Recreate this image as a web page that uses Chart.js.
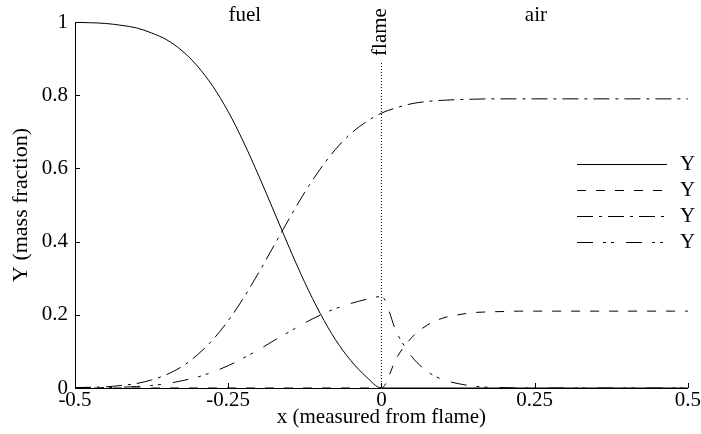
<!DOCTYPE html>
<html>
<head>
<meta charset="utf-8">
<script src="https://cdn.jsdelivr.net/npm/chart.js@4.4.1/dist/chart.umd.min.js"></script>
<style>
  html, body { margin: 0; padding: 0; background: #fff; }
  #wrap { width: 701px; height: 434px; }
</style>
</head>
<body>
<div id="wrap"><canvas id="c" width="701" height="434"></canvas></div>
<script>
// x positions (measured from flame)
const xs = [-0.5, -0.475, -0.45, -0.425, -0.4, -0.375, -0.35, -0.325, -0.3, -0.275,
  -0.25, -0.225, -0.2, -0.175, -0.15, -0.125, -0.1, -0.075, -0.05, -0.025,
  0, 0.025, 0.05, 0.075, 0.1, 0.125, 0.15, 0.175, 0.2, 0.225,
  0.25, 0.275, 0.3, 0.325, 0.35, 0.375, 0.4, 0.425, 0.45, 0.475, 0.5];

// mass fractions
const yFuel = [0.999, 0.998, 0.996, 0.991, 0.984, 0.970, 0.951, 0.921, 0.879, 0.824,
  0.755, 0.672, 0.579, 0.481, 0.382, 0.288, 0.204, 0.132, 0.075, 0.031,
  0, 0, 0, 0, 0, 0, 0, 0, 0, 0,
  0, 0, 0, 0, 0, 0, 0, 0, 0, 0, 0];
const yOx = [0, 0, 0, 0, 0, 0, 0, 0, 0, 0,
  0, 0, 0, 0, 0, 0, 0, 0, 0, 0,
  0, 0.083, 0.139, 0.172, 0.191, 0.200, 0.206, 0.208, 0.209, 0.210,
  0.210, 0.210, 0.210, 0.210, 0.210, 0.210, 0.210, 0.210, 0.210, 0.210, 0.210];
const yInert = [0.001, 0.002, 0.003, 0.007, 0.012, 0.022, 0.037, 0.059, 0.091, 0.132,
  0.184, 0.246, 0.316, 0.390, 0.464, 0.535, 0.598, 0.652, 0.695, 0.727,
  0.751, 0.766, 0.777, 0.783, 0.786, 0.788, 0.789, 0.790, 0.790, 0.790,
  0.790, 0.790, 0.790, 0.790, 0.790, 0.790, 0.790, 0.790, 0.790, 0.790, 0.790];
const yProd = [0, 0.001, 0.001, 0.002, 0.004, 0.007, 0.012, 0.020, 0.030, 0.044,
  0.061, 0.082, 0.105, 0.130, 0.154, 0.178, 0.199, 0.217, 0.231, 0.242,
  0.250, 0.151, 0.085, 0.045, 0.023, 0.012, 0.005, 0.002, 0.001, 0,
  0, 0, 0, 0, 0, 0, 0, 0, 0, 0, 0];

// flame sheet marker
const flameX = [0, 0];
const flameY = [0, 0.89];

const xTicks = [-0.5, -0.25, 0, 0.25, 0.5];
const xTickLabels = ["-0.5", "-0.25", "0", "0.25", "0.5"];
const yTicks = [0, 0.2, 0.4, 0.6, 0.8, 1];
const yTickLabels = ["0", "0.2", "0.4", "0.6", "0.8", "1"];

const regions = [
  { text: "fuel", x: -0.223 },
  { text: "air", x: 0.252 }
];
const legendLabels = ["Y", "Y", "Y", "Y"];

const FONT = "'Liberation Serif', 'Times New Roman', serif";
const FS = 21;
const dashes = [[], [9, 10], [16, 6, 3, 6], [16, 10, 3, 5, 3, 12]];

function pts(ys) {
  return xs.map((x, i) => ({ x: x, y: ys[i] }));
}

function series(ys, dash) {
  return {
    data: pts(ys),
    borderColor: "#000",
    borderWidth: 1,
    borderDash: dash,
    pointRadius: 0,
    fill: false,
    cubicInterpolationMode: "monotone"
  };
}

// inward ticks, text labels and the legend
const decor = {
  id: "decor",
  afterDraw(chart) {
    const { ctx, scales: { x, y } } = chart;
    ctx.save();
    ctx.strokeStyle = "#000";
    ctx.lineWidth = 1;
    ctx.setLineDash([]);
    xTicks.forEach((v) => {
      const px = Math.round(x.getPixelForValue(v)) + 0.5;
      ctx.beginPath();
      ctx.moveTo(px, y.bottom);
      ctx.lineTo(px, y.bottom - 5);
      ctx.stroke();
    });
    yTicks.forEach((v) => {
      const py = Math.round(y.getPixelForValue(v)) + 0.5;
      ctx.beginPath();
      ctx.moveTo(x.left, py);
      ctx.lineTo(x.left + 5, py);
      ctx.stroke();
    });

    ctx.fillStyle = "#000";
    ctx.font = FS + "px " + FONT;
    ctx.textAlign = "center";
    ctx.textBaseline = "middle";
    regions.forEach((r) => {
      ctx.fillText(r.text, x.getPixelForValue(r.x), 15);
    });

    // rotated "flame" label above the dotted line
    ctx.save();
    ctx.translate(x.getPixelForValue(0) - 1, 32);
    ctx.rotate(-Math.PI / 2);
    ctx.fillText("flame", 0, 0);
    ctx.restore();

    // legend
    const rows = [164, 190, 216, 242];
    ctx.textAlign = "left";
    rows.forEach((ry, i) => {
      ctx.setLineDash(dashes[i]);
      ctx.beginPath();
      ctx.moveTo(577, ry + 0.5);
      ctx.lineTo(667, ry + 0.5);
      ctx.stroke();
      ctx.setLineDash([]);
      ctx.fillText(legendLabels[i], 680, ry);
    });
    ctx.restore();
  }
};

new Chart(document.getElementById("c"), {
  type: "line",
  data: {
    datasets: [
      series(yFuel, dashes[0]),
      series(yOx, dashes[1]),
      series(yInert, dashes[2]),
      series(yProd, dashes[3]),
      {
        data: flameX.map((v, i) => ({ x: v, y: flameY[i] })),
        borderColor: "#000",
        borderWidth: 1,
        borderDash: [1, 2],
        pointRadius: 0,
        fill: false
      }
    ]
  },
  options: {
    responsive: false,
    animation: false,
    events: [],
    layout: { padding: { top: 22, right: 13, left: 0, bottom: 0 } },
    plugins: {
      legend: { display: false },
      tooltip: { enabled: false }
    },
    scales: {
      x: {
        type: "linear",
        min: -0.5,
        max: 0.5,
        afterBuildTicks: (s) => { s.ticks = xTicks.map((v) => ({ value: v })); },
        afterFit: (s) => { s.height = 46; },
        ticks: {
          color: "#000",
          font: { family: FONT, size: FS },
          padding: 0,
          maxRotation: 0,
          callback: (v) => xTickLabels[xTicks.indexOf(v)]
        },
        grid: { display: true, drawOnChartArea: false, drawTicks: false },
        border: { display: true, color: "#000", width: 1 },
        title: {
          display: true,
          text: "x (measured from flame)",
          color: "#000",
          font: { family: FONT, size: FS },
          padding: { top: 0, bottom: 4 }
        }
      },
      y: {
        min: 0,
        max: 1,
        afterBuildTicks: (s) => { s.ticks = yTicks.map((v) => ({ value: v })); },
        afterFit: (s) => { s.width = 75; },
        ticks: {
          color: "#000",
          font: { family: FONT, size: FS },
          padding: 7,
          callback: (v) => yTickLabels[yTicks.indexOf(v)]
        },
        grid: { display: true, drawOnChartArea: false, drawTicks: false },
        border: { display: true, color: "#000", width: 1 },
        title: {
          display: true,
          text: "Y (mass fraction)",
          color: "#000",
          font: { family: FONT, size: 22 },
          padding: { top: 8, bottom: 0 }
        }
      }
    }
  },
  plugins: [decor]
});
</script>
</body>
</html>
